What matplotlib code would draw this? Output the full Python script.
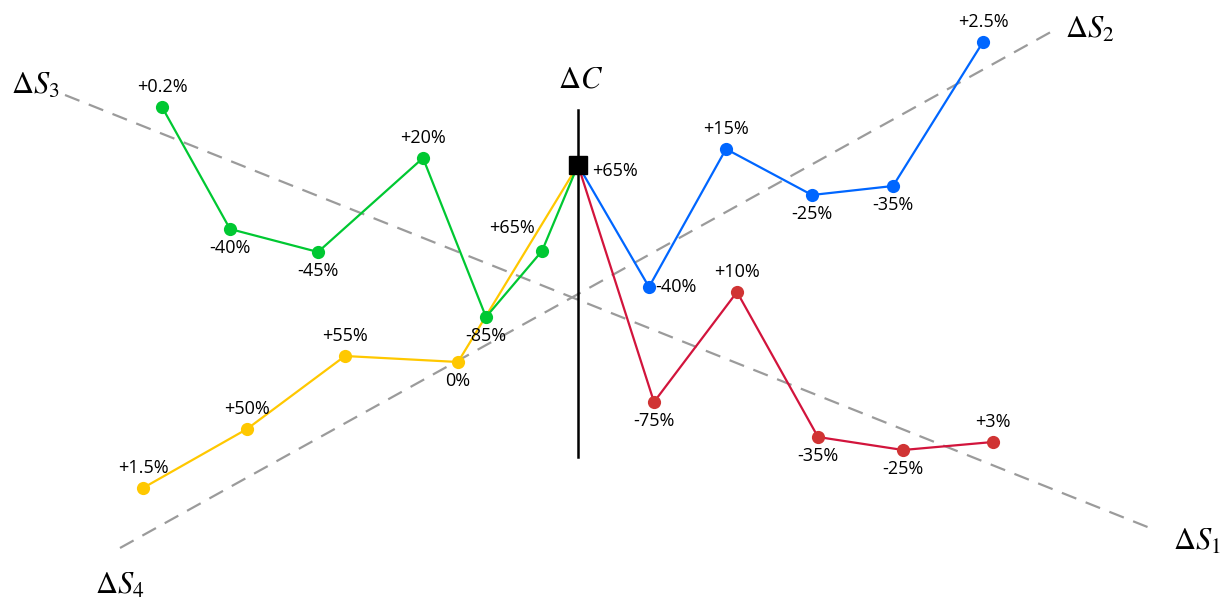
import matplotlib
matplotlib.use("Agg")
import matplotlib.pyplot as plt

plt.rcParams['font.family'] = ['Open Sans', 'DejaVu Sans']
plt.rcParams['mathtext.fontset'] = 'stix'

# ---- data (diagram coordinates, y grows downward) ----
center = (578, 165)
center_label = "+65%"

# left-hand series run from the outer point toward the centre
green_x = [162, 230, 318, 423, 486, 542]
green_y = [107, 229, 252, 158, 317, 251]
green_labels = ["+0.2%", "-40%", "-45%", "+20%", "-85%", "+65%"]
green_pos = ["above", "below", "below", "above", "below", "aboveleft"]

yellow_x = [143, 247, 345, 458]
yellow_y = [488, 429, 356, 362]
yellow_labels = ["+1.5%", "+50%", "+55%", "0%"]
yellow_pos = ["above", "above", "above", "below"]

# right-hand series run from the centre outward
blue_x = [649, 726, 812, 893, 983]
blue_y = [287, 149, 195, 186, 42]
blue_labels = ["-40%", "+15%", "-25%", "-35%", "+2.5%"]
blue_pos = ["right", "above", "below", "below", "above"]

red_x = [654, 737, 818, 903, 993]
red_y = [402, 292, 437, 450, 442]
red_labels = ["-75%", "+10%", "-35%", "-25%", "+3%"]
red_pos = ["below", "above", "below", "below", "above"]

axis_S13 = ([65, 1150], [95, 528])
axis_S42 = ([120, 1058], [548, 28])
axis_C = ([578, 578], [110, 457])

axis_names = [r"$\Delta S_1$", r"$\Delta S_2$", r"$\Delta S_3$", r"$\Delta S_4$", r"$\Delta C$"]
axis_name_xy = [(1197, 542), (1090, 30), (35, 86), (120, 586), (581, 80)]

GREEN = "#00C832"
YELLOW = "#FFC800"
BLUE = "#0066FF"
RED_LINE = "#D2143C"
RED_MARK = "#D03434"
GRAY = "#9B9B9B"
FS = 13

fig = plt.figure(figsize=(12.31, 6.12), dpi=100)
ax = fig.add_axes([0, 0, 1, 1])
ax.set_xlim(0, 1231)
ax.set_ylim(612, 0)
ax.axis('off')

# dashed reference axes
for xs, ys in (axis_S13, axis_S42):
    ax.plot(xs, ys, color=GRAY, lw=1.6, dashes=(7, 4.5), zorder=1)
ax.plot(*axis_C, color="black", lw=1.8, zorder=2)


def series(xs, ys, line_c, mark_c, labels, pos, z, left):
    if left:
        lx, ly = xs + [center[0]], ys + [center[1]]
    else:
        lx, ly = [center[0]] + xs, [center[1]] + ys
    ax.plot(lx, ly, color=line_c, lw=1.6, zorder=z)
    ax.plot(xs, ys, 'o', color=mark_c, ms=9.5, mec='none', zorder=z + 0.5)
    for x, y, t, p in zip(xs, ys, labels, pos):
        if p == "above":
            ax.text(x, y - 11, t, ha='center', va='bottom', fontsize=FS, zorder=10)
        elif p == "below":
            ax.text(x, y + 10, t, ha='center', va='top', fontsize=FS, zorder=10)
        elif p == "right":
            ax.text(x + 6, y, t, ha='left', va='center', fontsize=FS, zorder=10)
        elif p == "aboveleft":
            ax.text(x - 7, y - 14, t, ha='right', va='bottom', fontsize=FS, zorder=10)


series(yellow_x, yellow_y, YELLOW, YELLOW, yellow_labels, yellow_pos, 3, True)
series(green_x, green_y, GREEN, GREEN, green_labels, green_pos, 4, True)
series(blue_x, blue_y, BLUE, BLUE, blue_labels, blue_pos, 3, False)
series(red_x, red_y, RED_LINE, RED_MARK, red_labels, red_pos, 3, False)

ax.plot([center[0]], [center[1]], 's', color='black', ms=13, zorder=8)
ax.text(center[0] + 14, center[1] + 6, center_label, ha='left', va='center', fontsize=FS, zorder=10)

for t, (x, y) in zip(axis_names, axis_name_xy):
    ax.text(x, y, t, ha='center', va='center', fontsize=22, zorder=10)

fig.savefig("out.png", dpi=100)
